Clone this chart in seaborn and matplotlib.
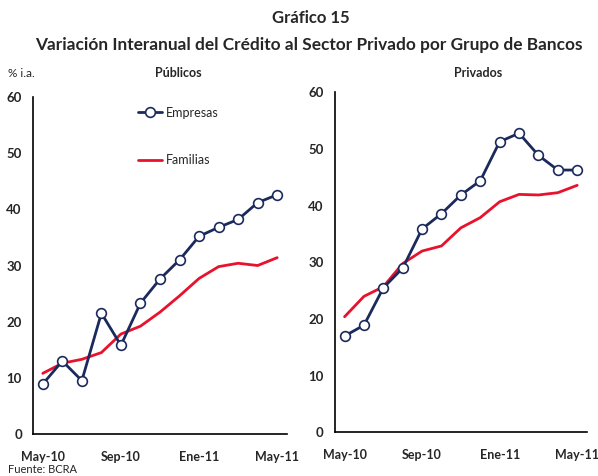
import matplotlib
matplotlib.use("Agg")
import matplotlib.pyplot as plt
import seaborn as sns
import pandas as pd
import numpy as np

months = ["May-10", "Jun-10", "Jul-10", "Ago-10", "Sep-10", "Oct-10", "Nov-10",
          "Dic-10", "Ene-11", "Feb-11", "Mar-11", "Abr-11", "May-11"]
tick_labels = ["May-10", "Sep-10", "Ene-11", "May-11"]

pub_empresas = [8.9, 13.0, 9.5, 21.5, 15.8, 23.3, 27.6, 31.0, 35.2, 36.8, 38.2, 41.2, 42.6]
pub_familias = [10.8, 12.6, 13.3, 14.5, 17.8, 19.2, 21.7, 24.6, 27.7, 29.8, 30.4, 30.0, 31.4]
priv_empresas = [17.0, 18.9, 25.5, 29.0, 35.9, 38.6, 41.9, 44.4, 51.3, 52.8, 48.9, 46.3, 46.3]
priv_familias = [20.4, 24.0, 25.7, 29.8, 32.0, 32.9, 36.1, 37.9, 40.7, 42.0, 41.9, 42.3, 43.6]

sns.set_style("white")
plt.rcParams['font.family'] = ['Lato', 'DejaVu Sans']

NAVY = "#1b2a5c"
RED = "#e8122d"

fig = plt.figure(figsize=(5.98, 4.76), dpi=100)
ax1 = fig.add_axes([0.0552, 0.0882, 0.4247, 0.708])
ax2 = fig.add_axes([0.560, 0.0918, 0.4214, 0.714])

idx = np.arange(len(months))

def draw(ax, emp, fam, legend=False):
    df = pd.DataFrame({"i": np.concatenate([idx, idx]),
                       "v": emp + fam,
                       "serie": ["Empresas"] * len(emp) + ["Familias"] * len(fam)})
    sns.lineplot(data=df[df.serie == "Familias"], x="i", y="v", color=RED, lw=2,
                 ax=ax, label="Familias" if legend else None)
    sns.lineplot(data=df[df.serie == "Empresas"], x="i", y="v", color=NAVY, lw=2,
                 marker="o", markersize=7, markerfacecolor="white",
                 markeredgecolor=NAVY, markeredgewidth=1.2, ax=ax,
                 label="Empresas" if legend else None)
    ax.set_xlim(-0.5, 12.5)
    ax.set_ylim(0, 60)
    ax.set_xlabel("")
    ax.set_ylabel("")
    ax.set_yticks([0, 10, 20, 30, 40, 50, 60])
    ax.set_xticks([0, 4, 8, 12])
    ax.set_xticklabels(tick_labels, fontweight="bold", fontsize=9)
    ax.set_xticks([3.5, 7.5, 11.5], minor=True)
    for lab in ax.get_yticklabels():
        lab.set_fontweight("bold")
        lab.set_fontsize(9.5)
    ax.tick_params(axis="x", which="major", length=0, pad=12)
    ax.tick_params(axis="x", which="minor", direction="in", length=4, color="#777777", width=1)
    ax.tick_params(axis="y", which="major", direction="in", length=4, color="#777777", width=1, pad=8)
    for s in ["top", "right"]:
        ax.spines[s].set_visible(False)
    for s in ["left", "bottom"]:
        ax.spines[s].set_color("black")
        ax.spines[s].set_linewidth(1.2)
    ax.set_facecolor("white")
    if legend:
        h, l = ax.get_legend_handles_labels()
        order = [l.index("Empresas"), l.index("Familias")]
        ax.legend([h[o] for o in order], [l[o] for o in order], loc="upper left",
                  bbox_to_anchor=(0.37, 1.005), frameon=False, fontsize=9,
                  labelspacing=2.85, handlelength=1.9, handletextpad=0.3)
    else:
        if ax.get_legend():
            ax.get_legend().remove()

draw(ax1, pub_empresas, pub_familias, legend=True)
draw(ax2, priv_empresas, priv_familias)

fig.text(0.52, 0.962, "Gráfico 15", ha="center", va="center", fontsize=12, fontweight="bold")
fig.text(0.517, 0.905, "Variación Interanual del Crédito al Sector Privado por Grupo de Bancos",
         ha="center", va="center", fontsize=12.4, fontweight="bold")
fig.text(0.298, 0.846, "Públicos", ha="center", va="center", fontsize=9, fontweight="bold")
fig.text(0.80, 0.846, "Privados", ha="center", va="center", fontsize=9, fontweight="bold")
fig.text(0.013, 0.846, "% i.a.", ha="left", va="center", fontsize=8.5)
fig.text(0.013, 0.013, "Fuente: BCRA", ha="left", va="center", fontsize=8)

fig.savefig("out.png", dpi=100, facecolor="white")
